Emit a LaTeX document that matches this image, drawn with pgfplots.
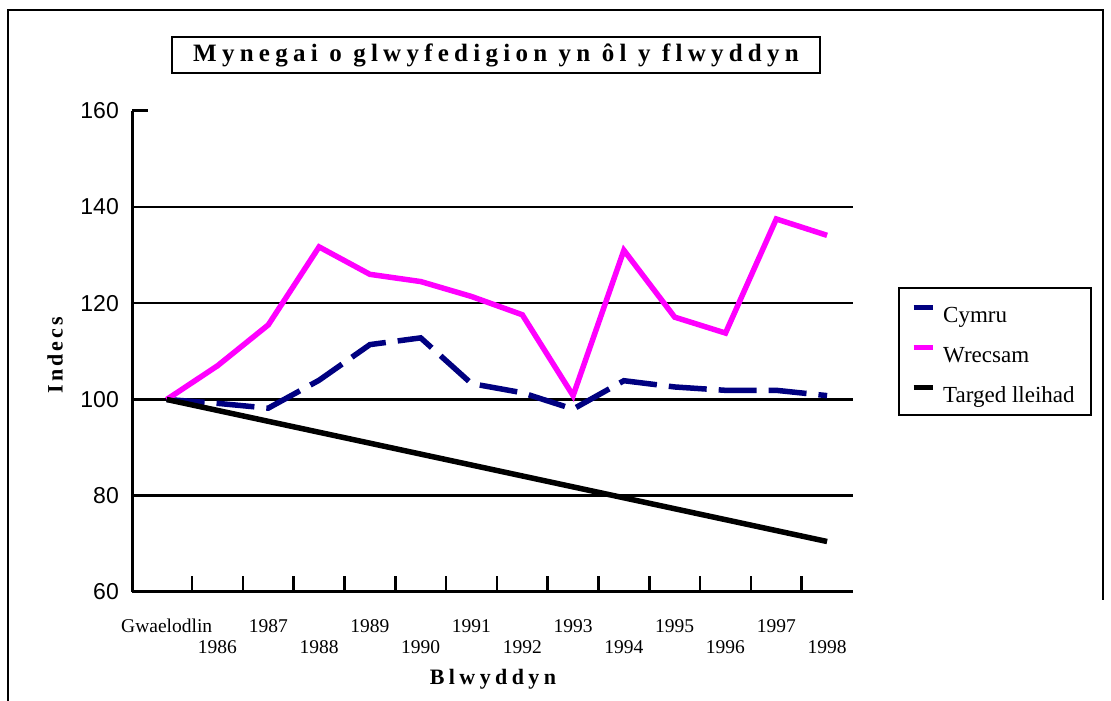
\documentclass[border=0pt]{standalone}
\usepackage{fontspec}
\setmainfont{Liberation Serif}
\setsansfont{Liberation Sans}
\newfontfamily\titlef[LetterSpace=21]{Liberation Serif}
\newfontfamily\xlabf[LetterSpace=20]{Liberation Serif}
\newfontfamily\ylabf[LetterSpace=14]{Liberation Serif}
\usepackage{pgfplots}
\pgfplotsset{compat=1.18}
\definecolor{navyc}{HTML}{000080}
\definecolor{pinkc}{HTML}{FF00FF}

\pgfplotstableread{
x cymru wrecsam targed
0 100.0 100.0 100.0
1 99.2 107.0 97.73
2 98.2 115.5 95.46
3 104.0 131.7 93.19
4 111.4 126.0 90.92
5 112.8 124.5 88.65
6 103.3 121.4 86.38
7 101.4 117.6 84.11
8 98.0 100.8 81.84
9 103.9 131.0 79.57
10 102.6 117.1 77.30
11 101.9 113.8 75.03
12 101.9 137.5 72.76
13 100.8 134.1 70.49
}\datatable

\begin{document}
\begin{tikzpicture}[x=1pt,y=1pt]
\useasboundingbox (0,0) rectangle (1111,701);
\draw[line width=2.5pt] (8,-20) -- (8,691) -- (1103,691) -- (1103,101);
\begin{axis}[
  at={(132pt,109pt)}, anchor=south west,
  scale only axis, width=721pt, height=481.3pt,
  xmin=-0.683, xmax=13.51, ymin=60, ymax=160,
  axis x line*=bottom, axis y line*=left,
  axis line style={line width=3pt, -},
  tick align=inside,
  major tick length=16pt,
  tick style={line width=2.5pt, black},
  ytick={60,80,...,160},
  yticklabel style={font=\fontsize{23}{23}\selectfont\sffamily, inner sep=0pt, anchor=east, xshift=-13pt},
  /pgf/number format/assume math mode=true,
  xtick={0.5,1.5,...,12.5},
  xticklabels={,,,,,,,,,,,,,},
  xticklabel style={font=\fontsize{19.5}{19.5}\selectfont, anchor=base, inner sep=0pt, yshift=-41pt},
  extra x ticks={0,...,13},
  extra x tick labels={Gwaelodlin,\raisebox{-21pt}{1986},1987,\raisebox{-21pt}{1988},1989,\raisebox{-21pt}{1990},1991,\raisebox{-21pt}{1992},1993,\raisebox{-21pt}{1994},1995,\raisebox{-21pt}{1996},1997,\raisebox{-21pt}{1998}},
  extra x tick style={major tick length=0pt},
  extra y ticks={80,100,120,140},
  extra y tick labels={,,,},
  extra y tick style={grid=major, major grid style={line width=2.5pt, black}, major tick length=0pt},
  every axis y label/.style={at={(rel axis cs:-0.1068,0.492)}, rotate=90, anchor=center},
  every axis x label/.style={at={(rel axis cs:0.5007,-0.193)}, anchor=base},
  ylabel={\ylabf\bfseries\fontsize{22}{22}\selectfont Indecs},
  xlabel={\xlabf\bfseries\fontsize{22}{22}\selectfont Blwyddyn},
  clip=false,
  legend style={at={(rel axis cs:1.0624,0.4997)}, anchor=west, draw=black, line width=2.5pt,
    font=\fontsize{23}{23}\selectfont, inner xsep=12pt, inner ysep=5pt,
    row sep=3pt, column sep=8pt,
    nodes={inner sep=0pt, text height=29.7pt, text depth=7.3pt}},
  legend cell align=left,
  legend image code/.code={\draw[#1, solid, line width=5pt] (0pt,4pt) -- (19pt,4pt);},
]
\addplot[navyc, line width=5.5pt, dash pattern=on 38pt off 12pt] table[x=x, y=cymru] {\datatable};
\addlegendentry{\makebox[136pt][l]{Cymru}}
\addplot[pinkc, line width=5.5pt] table[x=x, y=wrecsam] {\datatable};
\addlegendentry{\makebox[136pt][l]{Wrecsam}}
\addplot[black, line width=5.5pt] table[x=x, y=targed] {\datatable};
\addlegendentry{\makebox[136pt][l]{Targed lleihad}}
\end{axis}
\node[draw, line width=2.5pt, minimum width=648pt, minimum height=36pt, inner sep=0pt] at (496,646)
  {\titlef\bfseries\fontsize{25}{25}\selectfont Mynegai o glwyfedigion yn ôl y flwyddyn};
\end{tikzpicture}
\end{document}
